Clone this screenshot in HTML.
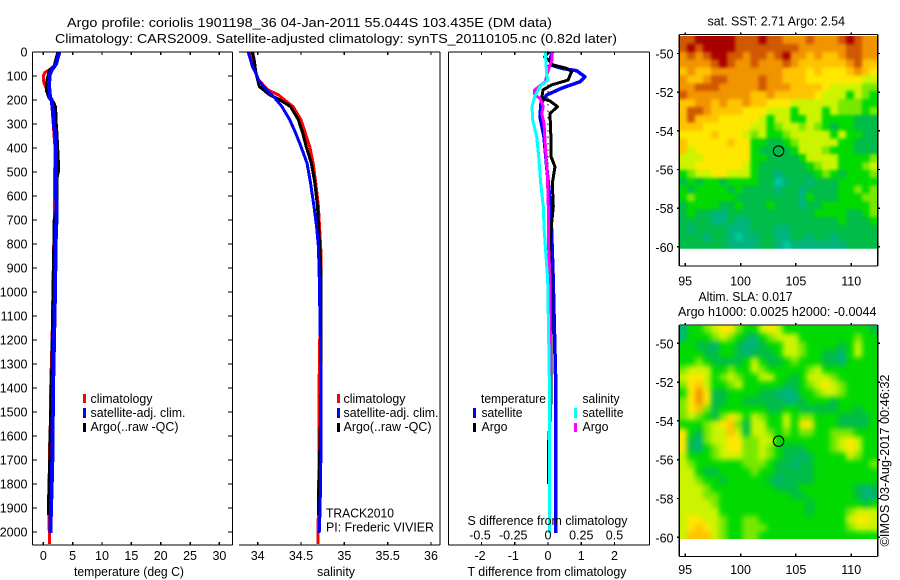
<!DOCTYPE html>
<html>
<head>
<meta charset="utf-8">
<title>Argo profile</title>
<style>
html,body{margin:0;padding:0;background:#fff;}
svg{display:block;}
text{font-family:"Liberation Sans",sans-serif;font-size:12.5px;fill:#000;}
</style>
</head>
<body>
<svg id="chart" xmlns="http://www.w3.org/2000/svg" width="900" height="580" viewBox="0 0 900 580">
<defs>
<clipPath id="sstClip"><rect x="679.3" y="36" width="198.4" height="212.7"/></clipPath>
<clipPath id="slaClip"><rect x="679.3" y="325.7" width="198.4" height="213.3"/></clipPath>
<filter id="sstBlur" x="-5%" y="-5%" width="110%" height="110%" color-interpolation-filters="sRGB">
<feGaussianBlur stdDeviation="1.5"/>
<feComponentTransfer><feFuncA type="discrete" tableValues="1"/></feComponentTransfer>
</filter>
<filter id="slaBlur" x="-5%" y="-5%" width="110%" height="110%" color-interpolation-filters="sRGB">
<feGaussianBlur stdDeviation="2.6"/>
<feComponentTransfer><feFuncA type="discrete" tableValues="1"/></feComponentTransfer>
</filter>
</defs>
<rect x="0" y="0" width="900" height="580" fill="#fff"/>
<g id="layer"></g>
<g id="labels">
<text x="67" y="27" textLength="485" lengthAdjust="spacingAndGlyphs">Argo profile: coriolis 1901198_36 04-Jan-2011 55.044S 103.435E (DM data)</text>
<text x="55" y="43" textLength="562" lengthAdjust="spacingAndGlyphs">Climatology: CARS2009. Satellite-adjusted climatology: synTS_20110105.nc (0.82d later)</text>
<text x="74" y="576" textLength="110" lengthAdjust="spacingAndGlyphs">temperature (deg C)</text>
<text x="317" y="576" textLength="38" lengthAdjust="spacingAndGlyphs">salinity</text>
<text x="467.5" y="576" textLength="159" lengthAdjust="spacingAndGlyphs">T difference from climatology</text>
<text x="467.5" y="525" textLength="160" lengthAdjust="spacingAndGlyphs">S difference from climatology</text>

<rect x="83" y="394" width="3" height="9" fill="#ff0000"/>
<rect x="83" y="408" width="3" height="10" fill="#0000ff"/>
<rect x="83" y="423" width="3" height="9" fill="#000"/>
<text x="90.5" y="403" textLength="62" lengthAdjust="spacingAndGlyphs">climatology</text>
<text x="90.5" y="417" textLength="95" lengthAdjust="spacingAndGlyphs">satellite-adj. clim.</text>
<text x="90.5" y="431" textLength="88" lengthAdjust="spacingAndGlyphs">Argo(..raw -QC)</text>

<rect x="337" y="394" width="3" height="9" fill="#ff0000"/>
<rect x="337" y="408" width="3" height="10" fill="#0000ff"/>
<rect x="337" y="423" width="3" height="9" fill="#000"/>
<text x="343.5" y="403" textLength="62" lengthAdjust="spacingAndGlyphs">climatology</text>
<text x="343.5" y="417" textLength="95" lengthAdjust="spacingAndGlyphs">satellite-adj. clim.</text>
<text x="343.5" y="431" textLength="88" lengthAdjust="spacingAndGlyphs">Argo(..raw -QC)</text>
<text x="326" y="517.5" textLength="68" lengthAdjust="spacingAndGlyphs">TRACK2010</text>
<text x="326" y="531.5" textLength="108" lengthAdjust="spacingAndGlyphs">PI: Frederic VIVIER</text>

<text x="481" y="403" textLength="65" lengthAdjust="spacingAndGlyphs">temperature</text>
<text x="481.5" y="417" textLength="41" lengthAdjust="spacingAndGlyphs">satellite</text>
<text x="481.5" y="431" textLength="26" lengthAdjust="spacingAndGlyphs">Argo</text>
<rect x="473" y="408" width="3" height="10" fill="#0000ff"/>
<rect x="473" y="423" width="3" height="9" fill="#000"/>
<text x="582.5" y="403" textLength="37" lengthAdjust="spacingAndGlyphs">salinity</text>
<text x="582.5" y="417" textLength="41" lengthAdjust="spacingAndGlyphs">satellite</text>
<text x="582.5" y="431" textLength="26" lengthAdjust="spacingAndGlyphs">Argo</text>
<rect x="574" y="408" width="3" height="10" fill="#00ffff"/>
<rect x="574" y="423" width="3" height="9" fill="#ff00ff"/>

<text x="707.5" y="25.5" textLength="137.5" lengthAdjust="spacingAndGlyphs">sat. SST: 2.71 Argo: 2.54</text>
<text x="698.5" y="301" textLength="94" lengthAdjust="spacingAndGlyphs">Altim. SLA: 0.017</text>
<text x="678" y="316" textLength="198.5" lengthAdjust="spacingAndGlyphs">Argo h1000: 0.0025 h2000: -0.0044</text>
<text transform="translate(889,546.5) rotate(-90)" x="0" y="0" textLength="172" lengthAdjust="spacingAndGlyphs">©IMOS 03-Aug-2017 00:46:32</text>
</g>
</svg>
<script>
// ---------- axis tick values ----------
const depthTicks = [0,100,200,300,400,500,600,700,800,900,1000,1100,1200,1300,1400,1500,1600,1700,1800,1900,2000];
const tempTicks = [0,5,10,15,20,25,30];
const salinityTicks = [34,34.5,35,35.5,36];
const tDiffTicks = [-2,-1,0,1,2];
const sDiffTicks = [-0.5,-0.25,0,0.25,0.5];
const lonTicks = [95,100,105,110];
const latTicks = [-50,-52,-54,-56,-58,-60];

// ---------- temperature profile ----------
const climTempDepth = [0,50,70,85,100,115,130,150,200,400,630,690,900,1200,1450,1550,1650,1700,1850,1900,2000,2050];
const climTemp = [2.7,2.1,1.3,0.3,0.0,0.0,0.13,0.5,1.4,2.0,1.88,1.88,1.7,1.5,1.2,1.2,1.08,1.08,0.92,0.92,1.02,1.02];
const argoTempDepth = [0,30,50,60,80,100,130,160,190,210,230,300,340,450,500,520,650,700,1000,1400,1550,1700,1900,1930];
const argoTemp = [2.5,2.2,2.0,1.84,1.0,0.85,0.57,0.57,1.0,1.7,2.05,2.16,2.28,2.5,2.5,2.33,2.28,1.9,1.7,1.43,1.25,1.14,0.92,0.92];
const satTempDepth = [0,50,75,100,150,190,200,250,300,350,400,500,600,650,700,720,800,1000,1400,1550,1700,1800,1900,2005];
const satTemp = [2.73,2.16,1.43,1.02,1.0,1.15,1.43,1.65,1.82,2.05,2.16,2.16,2.16,2.28,2.28,2.2,2.1,2.0,1.65,1.6,1.53,1.43,1.31,1.2];

// ---------- salinity profile ----------
const climSalDepth = [0,61,117,158,179,200,228,283,339,394,464,547,644,839,1358,1640,1900,2050];
const climSal = [33.92,33.95,34.01,34.12,34.24,34.31,34.41,34.5,34.55,34.6,34.64,34.67,34.7,34.73,34.71,34.71,34.7,34.695];
const argoSalDepth = [0,33,89,144,179,200,228,283,339,394,464,547,644,839,922,1358,1606,1880,1930];
const argoSal = [33.94,33.96,33.98,34.02,34.14,34.26,34.38,34.47,34.52,34.56,34.62,34.66,34.69,34.72,34.73,34.73,34.72,34.7,34.7];
const satSalDepth = [0,61,89,117,158,193,228,283,339,394,464,547,644,728,811,922,1358,1643,1900,2005];
const satSal = [33.89,33.94,33.98,34.01,34.10,34.2,34.28,34.37,34.44,34.5,34.57,34.61,34.65,34.68,34.70,34.71,34.73,34.73,34.72,34.71];

// ---------- differences from climatology ----------
const tSatDepth = [0,33,54,68,78,103,124,151,179,214,269,353,478,575,672,922,1358,2005];
const tSatDiff = [0.13,0.06,0.09,0.41,0.86,1.11,0.96,0.41,-0.04,-0.21,-0.24,-0.12,-0.04,0.03,0.09,0.15,0.23,0.23];
const tArgoDepth = [0,20,33,54,68,82,117,137,158,193,204,228,256,367,436,478,547,644,783,922,1358,1450,1650,1800];
const tArgoDiff = [0.03,-0.1,0.0,0.16,0.56,0.71,0.6,0.11,-0.15,-0.19,0.06,0.29,0.06,0.09,0.09,0.21,0.13,0.16,0.06,0.09,0.09,0.09,0.01,0.01];
const sSatDepth = [0,47,89,117,144,186,228,283,353,436,547,644,728,850,950,1358,2005];
const sSatDiff = [-0.02,-0.015,-0.01,-0.002,-0.06,-0.1,-0.12,-0.115,-0.085,-0.07,-0.055,-0.035,-0.03,-0.015,-0.002,0.01,0.01];
const sArgoDepth = [0,33,54,89,124,158,179,193,228,256,297,436,506,644,783,950,1530];
const sArgoDiff = [0.03,0.03,0.015,-0.005,-0.02,-0.1,-0.1,-0.06,-0.035,-0.047,-0.03,-0.015,-0.005,0.002,0.002,0.015,0.02];
const zeroLineDepth = [0,1300];
const zeroLineDiff = [0,0];

// ---------- profile position ----------
const profileLon = 103.435;
const profileLat = -55.044;

// ---------- SST map (colour level per cell, rows north to south) ----------
const sstGrid = [
[9,9,10,10,10,10,10,9,9,9,10,9,9,8,8,8,9,8,8,8,9,10,9,8,8],
[9,10,9,10,10,10,10,9,9,9,9,9,9,9,9,8,8,8,8,8,8,9,9,8,8],
[8,9,8,9,10,10,9,9,8,9,9,8,9,10,8,8,7,8,7,7,8,9,9,8,8],
[8,8,8,8,9,10,9,8,8,9,8,8,8,9,8,7,7,7,7,7,7,8,9,7,7],
[7,8,7,7,8,8,8,8,8,8,8,8,8,7,7,7,6,7,6,6,6,7,8,7,6],
[8,7,7,8,9,9,8,8,8,8,9,8,8,7,7,7,6,6,6,6,6,6,6,5,5],
[8,8,9,9,9,8,8,8,8,8,9,8,8,8,7,7,7,7,6,5,5,5,5,4,4],
[9,8,8,8,8,8,8,8,8,7,7,8,7,7,7,7,7,6,5,5,5,3,5,4,3],
[7,7,8,8,7,8,7,7,8,7,7,6,6,6,5,5,5,5,5,5,4,4,4,3,3],
[7,9,9,8,7,7,7,7,6,6,6,5,5,5,3,5,5,5,3,5,4,4,4,3,4],
[7,9,7,7,7,6,6,6,6,6,5,3,5,5,3,3,5,5,3,3,3,3,2,2,2],
[7,7,7,6,6,6,6,6,6,5,5,3,4,5,5,4,5,4,3,2,3,3,2,2,2],
[6,6,6,6,7,6,6,6,5,4,5,3,3,4,5,5,5,5,5,3,5,3,3,2,2],
[7,6,6,6,6,6,7,6,6,3,3,2,2,3,4,5,5,5,5,5,3,3,2,2,2],
[7,5,6,6,6,6,6,6,6,3,2,2,2,2,3,5,5,5,4,3,3,3,2,2,2],
[5,5,5,6,6,6,6,6,6,3,3,2,2,2,2,3,5,5,5,5,3,3,3,3,4],
[5,5,6,6,6,6,6,6,5,3,2,2,2,2,2,2,3,4,5,5,3,3,3,4,5],
[3,4,5,5,6,6,5,5,5,3,2,2,1,2,2,2,2,3,4,3,2,3,3,3,4],
[2,3,2,3,3,2,3,3,3,3,2,2,0,1,2,2,1,2,2,2,3,3,3,3,3],
[3,2,3,3,3,3,2,3,2,2,2,2,1,2,2,1,2,2,2,2,3,3,4,3,4],
[3,4,3,3,3,3,3,2,2,2,2,2,2,2,2,1,3,2,2,2,3,3,3,4,4],
[2,3,3,3,3,2,2,3,2,2,2,3,2,2,2,1,2,2,3,3,3,3,3,3,4],
[2,3,2,2,1,1,2,2,2,2,2,2,2,2,2,2,2,3,3,3,3,2,2,3,4],
[2,2,2,2,1,1,2,1,1,2,2,2,2,2,2,2,2,2,2,2,3,2,2,2,3],
[2,1,2,2,2,2,1,1,1,2,2,2,1,1,2,2,2,2,2,2,2,2,2,2,2],
[2,2,2,1,2,2,1,0,1,1,2,2,1,1,2,2,1,2,2,1,2,2,2,2,2],
[2,2,2,2,2,2,1,1,1,1,2,2,1,0,1,1,1,1,1,1,1,2,2,2,2]
];

// ---------- SLA map (colour level per cell, rows north to south) ----------
const slaGrid = [
[1,3,3,4,5,6,6,4,3,3,5,6,5,3,3,3,3,3,3,3,3,3,3,3,2],
[1,3,3,3,4,5,4,3,2,1,3,4,5,5,5,3,3,3,3,3,3,3,4,3,3],
[3,3,2,2,1,3,3,2,1,1,2,3,3,5,5,4,3,3,3,3,2,3,5,3,3],
[3,3,3,2,2,3,3,2,1,2,2,2,3,5,5,4,3,3,2,2,1,3,5,3,3],
[3,3,4,3,2,2,2,2,3,5,3,2,2,3,4,3,3,3,2,2,1,3,3,3,3],
[4,5,5,5,3,3,4,3,3,5,4,3,3,3,3,3,4,5,3,3,3,3,3,3,3],
[5,6,6,5,3,4,5,4,3,3,5,5,3,3,2,3,5,5,5,4,3,3,3,3,3],
[4,6,7,5,3,3,4,5,3,3,3,3,3,2,2,3,4,5,6,5,4,3,3,3,3],
[3,6,8,6,2,2,3,3,3,3,2,2,1,1,1,3,3,4,5,5,4,3,3,3,3],
[4,6,8,6,2,2,3,3,2,2,2,2,2,1,1,2,3,3,3,2,3,3,3,3,3],
[4,6,7,4,2,3,3,3,3,3,3,2,2,3,3,2,2,2,2,2,3,3,2,3,3],
[4,5,4,3,2,4,6,5,3,5,4,3,3,5,3,4,4,3,3,3,2,2,2,2,3],
[3,3,3,4,5,6,7,4,2,5,5,3,3,5,3,6,6,3,3,3,2,2,2,2,3],
[6,3,2,4,5,5,7,5,2,5,5,4,3,4,3,4,4,3,3,4,4,4,3,3,3],
[6,2,1,4,5,5,6,6,4,4,5,5,3,3,3,3,3,3,3,4,5,6,5,3,3],
[6,2,1,3,4,5,6,6,4,4,5,4,3,2,2,2,3,3,3,4,5,6,5,3,3],
[5,3,3,3,4,5,5,5,4,4,5,4,3,2,2,1,2,3,3,3,3,5,4,3,3],
[5,4,3,3,3,3,3,3,4,4,4,3,2,2,1,2,2,3,3,3,3,3,3,3,4],
[5,5,3,2,2,3,3,3,3,4,3,3,2,2,2,2,2,3,3,3,3,3,3,3,3],
[5,5,4,3,3,2,3,3,3,3,3,2,1,2,2,2,2,3,3,3,3,3,3,3,3],
[5,5,5,4,3,3,3,3,3,3,3,3,2,2,2,3,3,3,3,3,3,3,2,1,2],
[5,5,5,4,4,3,3,3,3,3,3,3,3,3,2,2,3,3,3,3,3,3,2,1,1],
[5,5,5,5,4,3,3,3,3,3,3,3,3,3,3,3,2,3,3,3,3,3,3,2,3],
[5,5,5,5,5,3,3,3,3,3,3,3,3,3,3,3,2,3,3,3,3,4,5,5,5],
[5,6,6,5,5,4,3,3,4,4,3,3,3,3,3,3,3,3,3,3,3,5,6,6,5],
[5,6,7,6,5,4,3,3,4,4,4,3,3,3,3,3,3,3,3,3,3,4,5,5,5],
[5,7,7,7,5,4,3,3,4,4,3,3,3,3,3,3,3,3,3,3,3,3,3,3,3]
];

const palette = ['#00c8a0','#00b47c','#00bc48','#00da00','#78e800','#ccf400','#ffe800','#ffc400','#f09400','#d05800','#a80000'];

// ---------- axis functions ----------
const NS = 'http://www.w3.org/2000/svg';
const layer = document.getElementById('layer');
const yDepth = d => 52 + 0.24 * d;
const xTemp = t => 43.3 + 5.87 * t;
const xSal = s => 257.7 + 86.65 * (s - 34);
const xTDiff = t => 548 + 33.25 * t;
const xSDiff = s => 548 + 133 * s;
const xLon = lon => 685.2 + 11.07 * (lon - 95);
const ySst = lat => 53.5 + 19.33 * (-50 - lat);
const ySla = lat => 343.3 + 19.4 * (-50 - lat);

function create(tag, attrs, parent) {
  const el = document.createElementNS(NS, tag);
  for (const k in attrs) el.setAttribute(k, attrs[k]);
  (parent || layer).appendChild(el);
  return el;
}

function seg(name, x1, y1, x2, y2) {
  const el = create('line', {x1: x1, y1: y1, x2: x2, y2: y2, stroke: '#000', 'stroke-width': 1.4, 'shape-rendering': 'crispEdges'});
  
  
  return el;
}

function tickLabel(name, x, y, str, anchor) {
  const el = create('text', {x: x, y: y, 'text-anchor': anchor});
  el.textContent = str;
  
  
  return el;
}

function profile(name, depths, values, xf, color, width, extra) {
  const pts = depths.map((d, i) => xf(values[i]).toFixed(1) + ',' + yDepth(d).toFixed(1)).join(' ');
  const el = create('polyline', Object.assign({points: pts, fill: 'none', stroke: color, 'stroke-width': width, 'stroke-linejoin': 'round', 'shape-rendering': 'crispEdges'}, extra || {}));
  
  
  return el;
}

function heatmap(name, grid, yLat, clipId, filterId) {
  const lonStart = 94.46, lonStep = 0.7169, latStart = -49.1, latStep = 0.4073;
  const clipGroup = create('g', {'clip-path': 'url(#' + clipId + ')'});
  
  
  const group = create('g', {filter: 'url(#' + filterId + ')'}, clipGroup);
  
  
  grid.forEach((row, r) => {
    row.forEach((v, c) => {
      const x0 = xLon(lonStart + c * lonStep), x1 = xLon(lonStart + (c + 1) * lonStep);
      const y0 = yLat(latStart - r * latStep), y1 = yLat(latStart - (r + 1) * latStep);
      const el = create('rect', {x: x0.toFixed(2), y: y0.toFixed(2), width: (x1 - x0 + 0.4).toFixed(2), height: (y1 - y0 + 0.4).toFixed(2), fill: palette[v], 'shape-rendering': 'crispEdges'}, group);
      
      
    });
  });
}

// ---------- series, temperature panel ----------
profile('temperature-climatology-line', climTempDepth, climTemp, xTemp, '#ff0000', 3);
profile('temperature-argo-line', argoTempDepth, argoTemp, xTemp, '#000000', 3.5);
profile('temperature-satellite-line', satTempDepth, satTemp, xTemp, '#0000ff', 4);

// ---------- series, salinity panel ----------
profile('salinity-climatology-line', climSalDepth, climSal, xSal, '#ff0000', 3);
profile('salinity-argo-line', argoSalDepth, argoSal, xSal, '#000000', 3);
profile('salinity-satellite-line', satSalDepth, satSal, xSal, '#0000ff', 3);

// ---------- series, difference panel ----------
profile('difference-zero-line', zeroLineDepth, zeroLineDiff, xTDiff, '#000000', 1, {'stroke-dasharray': '1.5 5'});
profile('t-difference-satellite-line', tSatDepth, tSatDiff, xTDiff, '#0000ff', 3.5);
profile('t-difference-argo-line', tArgoDepth, tArgoDiff, xTDiff, '#000000', 3);
profile('s-difference-argo-line', sArgoDepth, sArgoDiff, xSDiff, '#ff00ff', 3);
profile('s-difference-satellite-line', sSatDepth, sSatDiff, xSDiff, '#00ffff', 3);

// ---------- frames ----------
seg('temperature-panel-top-axis', 32.5, 52, 232.5, 52);
seg('temperature-panel-bottom-axis', 32.5, 545, 232.5, 545);
seg('temperature-panel-left-axis', 32.5, 52, 32.5, 545);
seg('temperature-panel-right-axis', 232.5, 52, 232.5, 545);
seg('salinity-panel-top-axis', 239, 52, 440, 52);
seg('salinity-panel-bottom-axis', 239, 545, 440, 545);
seg('salinity-panel-right-axis', 440, 52, 440, 545);
seg('difference-panel-top-axis', 448.5, 52, 649.5, 52);
seg('difference-panel-bottom-axis', 448.5, 545, 649.5, 545);
seg('difference-panel-left-axis', 448.5, 52, 448.5, 545);
seg('difference-panel-right-axis', 649.5, 52, 649.5, 545);

// ---------- depth ticks ----------
depthTicks.forEach(d => {
  seg('depth-tick-left', 32.5, yDepth(d), 37, yDepth(d));
  seg('depth-tick-right', 228, yDepth(d), 232.5, yDepth(d));
  tickLabel('depth-tick-label', 27.5, yDepth(d) + 4.5, String(d), 'end');
});

// ---------- temperature ticks ----------
tempTicks.forEach(t => {
  seg('temperature-tick-top', xTemp(t), 52, xTemp(t), 55);
  seg('temperature-tick-bottom', xTemp(t), 542, xTemp(t), 545);
  tickLabel('temperature-tick-label', xTemp(t), 560, String(t), 'middle');
});

// ---------- salinity ticks ----------
salinityTicks.forEach(s => {
  seg('salinity-tick-top', xSal(s), 52, xSal(s), 55);
  seg('salinity-tick-bottom', xSal(s), 542, xSal(s), 545);
  tickLabel('salinity-tick-label', xSal(s), 560, String(s), 'middle');
});

// ---------- difference ticks ----------
tDiffTicks.forEach(t => {
  seg('t-difference-tick-top', xTDiff(t), 52, xTDiff(t), 55);
  seg('t-difference-tick-bottom', xTDiff(t), 542, xTDiff(t), 545);
  tickLabel('t-difference-tick-label', xTDiff(t) - (t < 0 ? 1.5 : 0), 560, String(t), 'middle');
});
sDiffTicks.forEach(s => {
  tickLabel('s-difference-tick-label', xSDiff(s) - (s < 0 ? 1.5 : 0), 539.5, String(s), 'middle');
});

// ---------- maps ----------
heatmap('sst-map-cells', sstGrid, ySst, 'sstClip', 'sstBlur');
heatmap('sla-map-cells', slaGrid, ySla, 'slaClip', 'slaBlur');

function mapFrame(prefix, top, bottom, yLat, labelY) {
  seg(prefix + '-top-axis', 679.3, top, 877.7, top);
  seg(prefix + '-bottom-axis', 679.3, bottom, 877.7, bottom);
  seg(prefix + '-left-axis', 679.3, top, 679.3, bottom);
  seg(prefix + '-right-axis', 877.7, top, 877.7, bottom);
  lonTicks.forEach(lon => {
    seg(prefix + '-lon-tick-top', xLon(lon), top - 2, xLon(lon), top);
    seg(prefix + '-lon-tick-bottom', xLon(lon), bottom - 3, xLon(lon), bottom);
    tickLabel(prefix + '-lon-tick-label', xLon(lon), labelY, String(lon), 'middle');
  });
  latTicks.forEach(lat => {
    seg(prefix + '-lat-tick-left', 677, yLat(lat), 679.3, yLat(lat));
    seg(prefix + '-lat-tick-right', 877.7, yLat(lat), 880, yLat(lat));
    tickLabel(prefix + '-lat-tick-label', 673.5, yLat(lat) + 5, String(lat), 'end');
  });
}
mapFrame('sst-map', 34.5, 266, ySst, 285.5);
mapFrame('sla-map', 325, 556.5, ySla, 574);

const sstMarker = create('circle', {cx: xLon(profileLon), cy: ySst(profileLat), r: 5.2, fill: 'none', stroke: '#000', 'stroke-width': 1.1});


const slaMarker = create('circle', {cx: xLon(profileLon), cy: ySla(profileLat), r: 5.2, fill: 'none', stroke: '#000', 'stroke-width': 1.1});


</script>
</body>
</html>
